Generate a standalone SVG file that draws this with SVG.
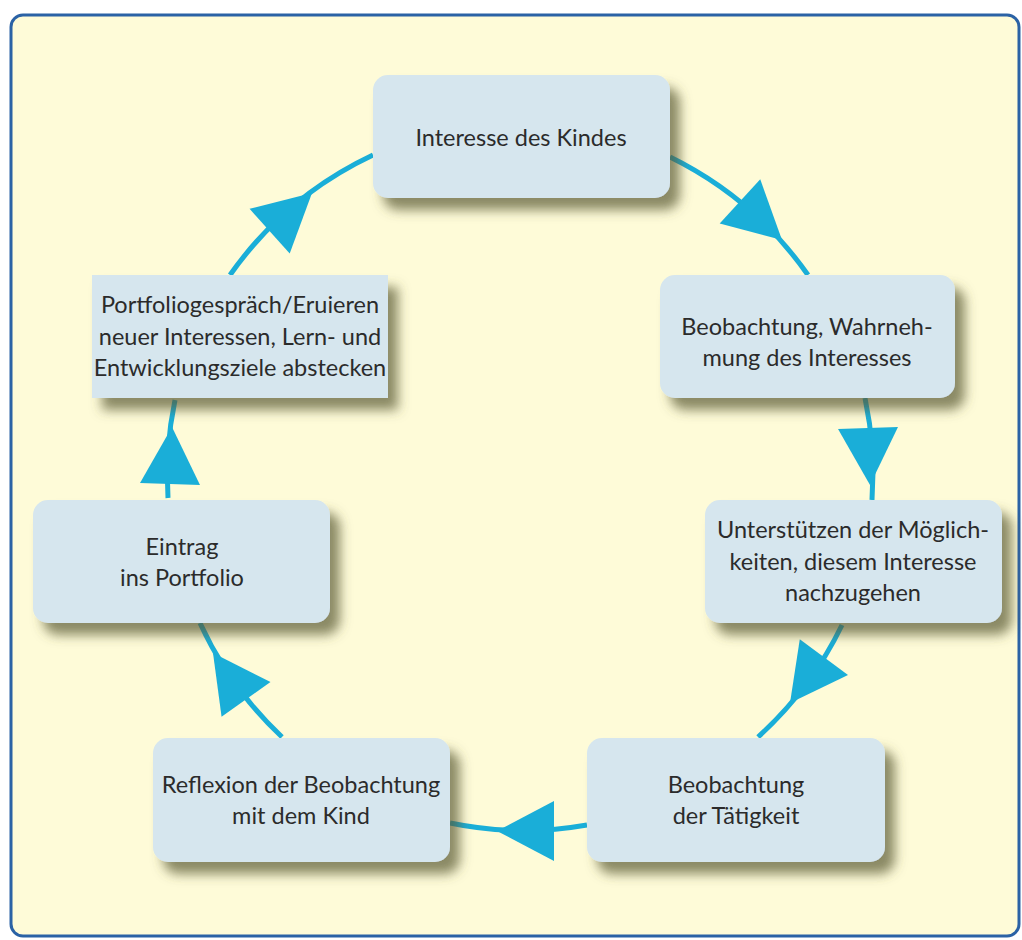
<svg xmlns="http://www.w3.org/2000/svg" width="1022" height="940" viewBox="0 0 1022 940">
<defs>
<style>
.box{fill:#d6e6ee;filter:url(#sh)}
.t{font-family:Lato,"Open Sans","Liberation Sans",sans-serif;font-size:23.5px;fill:#2b2b2b;text-anchor:middle}
.c{fill:none;stroke:#1aaed8;stroke-width:5}
.ah{fill:#1aaed8}
</style>
<filter id="sh" x="-20%" y="-20%" width="150%" height="160%">
<feDropShadow dx="10" dy="12" stdDeviation="6" flood-color="#5a5830" flood-opacity="0.7"/>
</filter>
<path id="tri" d="M0,0 L-57,-30 L-57,30 Z"/>
</defs>
<rect x="0" y="0" width="1022" height="940" fill="#ffffff"/>
<rect x="11" y="15" width="1008" height="921" rx="12" fill="#fefbd8" stroke="#2b62a5" stroke-width="3"/>
<g id="connectors">
<path class="c" d="M670,157 A365,365 0 0 1 808,275"/>
<path class="c" d="M865,398 A365,365 0 0 1 872,500"/>
<path class="c" d="M842,625 A365,365 0 0 1 758,737"/>
<path class="c" d="M587,825 A365,365 0 0 1 450,823"/>
<path class="c" d="M282,737 A365,365 0 0 1 200,623"/>
<path class="c" d="M168,498 A365,365 0 0 1 175,400"/>
<path class="c" d="M230,275 A365,365 0 0 1 373,155"/>
<use href="#tri" class="ah" transform="translate(782,240) rotate(42.5)"/>
<use href="#tri" class="ah" transform="translate(870,485) rotate(88)"/>
<use href="#tri" class="ah" transform="translate(790,703) rotate(126.5)"/>
<use href="#tri" class="ah" transform="translate(497,831) rotate(180)"/>
<use href="#tri" class="ah" transform="translate(213,653) rotate(-125.4)"/>
<use href="#tri" class="ah" transform="translate(172,427) rotate(-88)"/>
<use href="#tri" class="ah" transform="translate(312,193) rotate(-42)"/>
</g>
<g id="n1">
<rect class="box" x="373" y="75" width="297" height="123" rx="15"/>
<text class="t" x="521" y="146">Interesse des Kindes</text>
</g>
<g id="n2">
<rect class="box" x="660" y="275" width="295" height="123" rx="15"/>
<text class="t" x="807" y="335">Beobachtung, Wahrneh-</text>
<text class="t" x="807" y="366">mung des Interesses</text>
</g>
<g id="n3">
<rect class="box" x="705" y="500" width="297" height="123" rx="15"/>
<text class="t" x="853" y="538">Unterstützen der Möglich-</text>
<text class="t" x="853" y="570">keiten, diesem Interesse</text>
<text class="t" x="853" y="601">nachzugehen</text>
</g>
<g id="n4">
<rect class="box" x="587" y="738" width="298" height="124" rx="15"/>
<text class="t" x="736" y="793">Beobachtung</text>
<text class="t" x="736" y="824">der Tätigkeit</text>
</g>
<g id="n5">
<rect class="box" x="153" y="738" width="297" height="124" rx="15"/>
<text class="t" x="301" y="793">Reflexion der Beobachtung</text>
<text class="t" x="301" y="824">mit dem Kind</text>
</g>
<g id="n6">
<rect class="box" x="33" y="500" width="297" height="123" rx="15"/>
<text class="t" x="182" y="555">Eintrag</text>
<text class="t" x="182" y="586">ins Portfolio</text>
</g>
<g id="n7">
<rect class="box" x="92" y="275" width="296" height="123"/>
<text class="t" x="240" y="313">Portfoliogespräch/Eruieren</text>
<text class="t" x="240" y="345">neuer Interessen, Lern- und</text>
<text class="t" x="240" y="376">Entwicklungsziele abstecken</text>
</g>
</svg>
